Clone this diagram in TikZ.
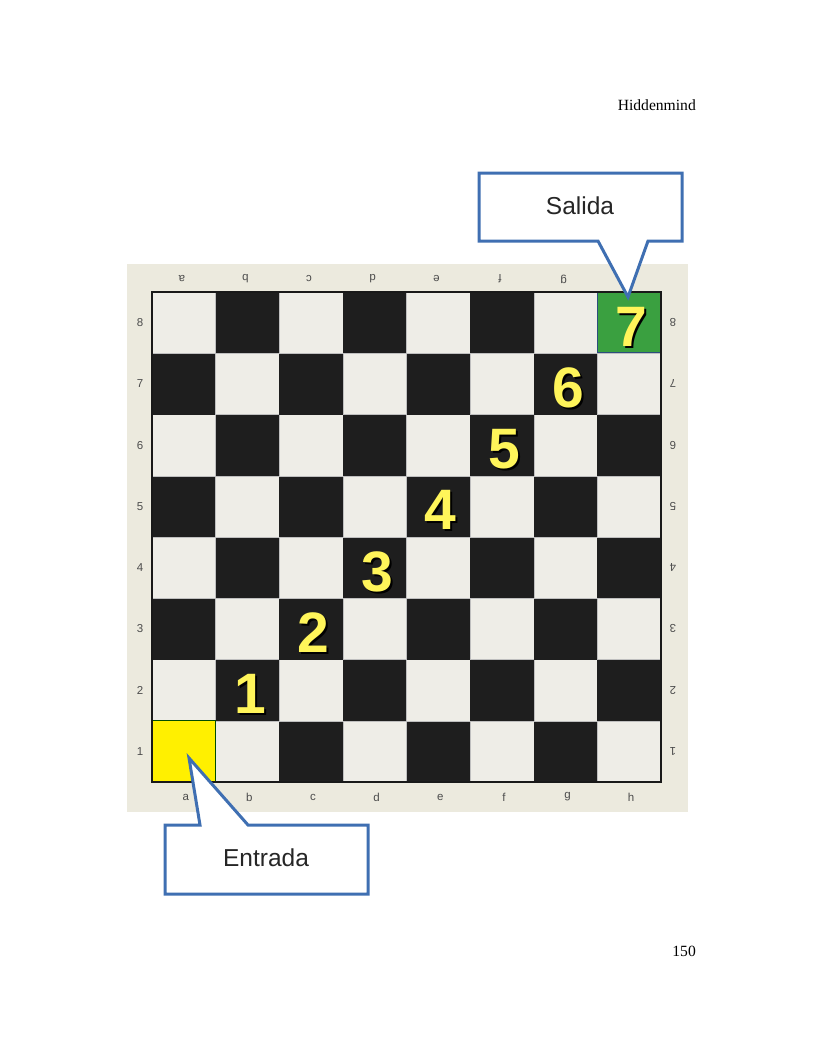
\documentclass[tikz,border=0pt]{standalone}
\usepackage{fontspec}
\setmainfont{Liberation Serif}
\newfontfamily\lsans{Liberation Sans}
\begin{document}
\begin{tikzpicture}[x=1pt,y=-1pt,
  lbl/.style={font=\lsans\fontsize{11.5}{11.5}\selectfont, text=black!70, inner sep=0pt},
  num/.style={font=\lsans\bfseries\fontsize{57}{57}\selectfont, inner sep=0pt},
  callout/.style={draw=calloutblue, line width=3pt, fill=white, line join=miter},
  callouttext/.style={font=\lsans\fontsize{24.5}{24.5}\selectfont, text=black!85, inner sep=0pt},
  pagetext/.style={font=\fontsize{15.6}{15.6}\selectfont, inner sep=0pt, anchor=east}]
\definecolor{beige}{RGB}{236,234,222}
\definecolor{darksq}{RGB}{30,30,30}
\definecolor{lightsq}{RGB}{238,237,231}
\definecolor{greensq}{RGB}{58,160,64}
\definecolor{yellowsq}{RGB}{255,240,0}
\definecolor{numyellow}{RGB}{255,245,90}
\definecolor{calloutblue}{RGB}{63,111,178}
\useasboundingbox (0,0) rectangle (817,1057);
\fill[white] (0,0) rectangle (817,1057);
% header and page number
\node[pagetext] (hdr) at (696,105) {Hiddenmind};
\node[pagetext] (pg) at (696,951) {150};
% board background
\fill[beige] (127,264) rectangle (688,812);
% squares
\def\bx{152}\def\by{292}\def\cw{63.625}\def\ch{61.25}
\foreach \i in {1,...,8}{
  \foreach \j in {1,...,8}{
    \pgfmathtruncatemacro{\sqpar}{mod(\i+\j,2)}
    \pgfmathsetmacro{\xa}{\bx+(\i-1)*\cw}
    \pgfmathsetmacro{\ya}{\by+(8-\j)*\ch}
    \ifnum\sqpar=0
      \fill[darksq] (\xa,\ya) rectangle ++(\cw,\ch);
    \else
      \fill[lightsq] (\xa,\ya) rectangle ++(\cw,\ch);
      \draw[black!25, line width=0.4pt] (\xa,\ya) rectangle ++(\cw,\ch);
    \fi
    \coordinate (sq\i\j) at (\xa+0.5*\cw,\ya+0.5*\ch);
  }
}
% special squares
\fill[yellowsq, draw=black!70!green, line width=1pt] (\bx+0.5,\by+7*\ch) rectangle ++(\cw-1,\ch-0.5);
\fill[greensq, draw=calloutblue!70!black, line width=0.8pt] (\bx+7*\cw+0.5,\by+0.5) rectangle ++(\cw-1,\ch-1);
% border
\draw[black!90, line width=1.6pt] (\bx,\by) rectangle (\bx+8*\cw,\by+8*\ch);
% rank labels
\foreach \j in {1,...,8}{
  \pgfmathsetmacro{\yy}{\by+(8.5-\j)*\ch}
  \node[lbl] (rl\j) at (140,\yy) {\j};
  \node[lbl, rotate=180] (rr\j) at (673,\yy) {\j};
}
% file labels
\foreach \f [count=\i] in {a,b,c,d,e,f,g,h}{
  \pgfmathsetmacro{\xx}{\bx+(\i-0.5)*\cw}
  \node[lbl] (fb\i) at (\xx+2,797) {\f};
  \node[lbl, rotate=180] (ft\i) at (\xx-2,279) {\f};
}
% callouts
\draw[callout] (479,173) -- (682,173) -- (682,241) -- (648,241) -- (628,297) -- (598,241) -- (479,241) -- cycle;
\node[callouttext] (salida) at (580,206) {Salida};
\draw[callout] (165,825) -- (200,825) -- (189,758) -- (248,825) -- (368,825) -- (368,894) -- (165,894) -- cycle;
\node[callouttext] (entrada) at (266,858) {Entrada};
% numbers with shadow
\foreach \n/\i/\j in {1/2/2,2/3/3,3/4/4,4/5/5,5/6/6,6/7/7,7/8/8}{
  \node[num, text=black] at ([shift={(4.5,6)}]sq\i\j) {\n};
  \node[num, text=numyellow] (n\n) at ([shift={(2.5,4)}]sq\i\j) {\n};
}
\end{tikzpicture}
\end{document}
